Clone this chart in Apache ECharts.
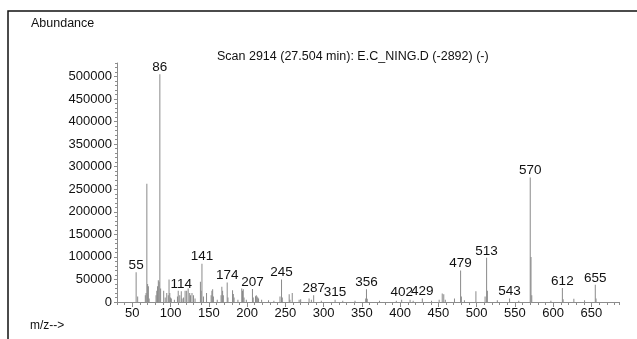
<!DOCTYPE html>
<html>
<head>
<meta charset="utf-8">
<script src="https://cdn.jsdelivr.net/npm/echarts@6/dist/echarts.min.js"></script>
<style>
  html, body { margin: 0; padding: 0; background: #fff; }
  #chart { width: 637px; height: 339px; }
</style>
</head>
<body>
<div id="chart"></div>
<script>
// m/z positions and abundances
const mzValues = [
  55, 57, 67, 68, 69, 70, 71, 72, 81, 82, 83, 84, 85, 86, 87, 91, 93, 95, 97, 98,
  99, 100, 101, 105, 109, 110, 112, 114, 115, 117, 119, 121, 123, 125, 126, 128, 130, 132,
  139, 140, 141, 143, 147, 153, 154, 155, 156, 161, 166, 167, 168, 169, 174, 175,
  181, 182, 183, 188, 193, 194, 195, 196, 199, 207, 208, 211, 212, 213, 214, 215, 219,
  228, 235, 243, 245, 246, 255, 256, 259, 268, 270, 281, 284, 287, 297, 315, 325, 341,
  355, 356, 357, 373, 395, 402, 413, 417, 429, 441, 451, 455, 457, 459, 471, 479, 480,
  484, 499, 511, 513, 514, 527, 543, 555, 570, 571, 572, 597, 612, 613, 627, 641, 655, 656
]
const abundances = [
  66000, 12000, 15000, 20000, 262000, 40000, 35000, 8000, 15000, 25000, 35000, 48000, 45000, 505000, 30000, 25000, 10000, 20000, 15000, 50000,
  20000, 10000, 8000, 5000, 12000, 25000, 15000, 24000, 8000, 10000, 25000, 25000, 30000, 20000, 15000, 20000, 15000, 8000,
  45000, 25000, 85000, 12000, 20000, 15000, 25000, 28000, 12000, 5000, 15000, 34000, 25000, 15000, 43000, 10000,
  26000, 18000, 10000, 5000, 30000, 25000, 28000, 10000, 5000, 29000, 10000, 13000, 15000, 12000, 10000, 8000, 5000,
  4000, 3000, 12000, 50000, 10000, 17000, 5000, 20000, 5000, 6000, 8000, 5000, 15000, 3000, 5000, 3000, 3000,
  8000, 28000, 7000, 3000, 3000, 5000, 5000, 3000, 8000, 3000, 5000, 19000, 17000, 5000, 8000, 70000, 12000,
  4000, 24000, 12000, 98000, 25000, 4000, 8000, 3000, 276000, 100000, 15000, 3000, 31000, 6000, 7000, 4000, 38000, 8000
]
// peaks that carry an m/z label
const labeledPeaks = [55, 86, 114, 141, 174, 207, 245, 287, 315, 356, 402, 429, 479, 513, 543, 570, 612, 655]

const xTickLabels = [50, 100, 150, 200, 250, 300, 350, 400, 450, 500, 550, 600, 650]
const yTickLabels = [0, 50000, 100000, 150000, 200000, 250000, 300000, 350000, 400000, 450000, 500000]

const titleText = 'Scan 2914 (27.504 min): E.C_NING.D (-2892) (-)'
const FONT = 'Liberation Sans, Arial, sans-serif'

const seriesData = mzValues.map((mz, i) => {
  const item = { value: [mz, abundances[i]] }
  if (labeledPeaks.indexOf(mz) >= 0) {
    item.label = {
      show: true,
      position: 'top',
      distance: 0,
      formatter: String(mz),
      color: '#111',
      fontSize: 13.5,
      fontFamily: FONT
    }
  }
  return item
})

const axisGray = '#8c8c8c'
const plain = (v) => String(v)

const option = {
  animation: false,
  backgroundColor: '#fff',
  grid: { left: 117, right: 18, top: 63, bottom: 37 },
  xAxis: [
    {
      type: 'value',
      min: 30,
      max: 686,
      interval: 50,
      axisLine: { lineStyle: { color: axisGray, width: 1 } },
      axisTick: { customValues: xTickLabels, length: 5, lineStyle: { color: axisGray } },
      axisLabel: { customValues: xTickLabels, formatter: plain, color: '#111', fontSize: 13, fontFamily: FONT, margin: 5 },
      splitLine: { show: false }
    },
    {
      type: 'value',
      min: 30,
      max: 686,
      interval: 10,
      position: 'bottom',
      axisLine: { show: false },
      axisTick: { length: 3, lineStyle: { color: axisGray } },
      axisLabel: { show: false },
      splitLine: { show: false }
    }
  ],
  yAxis: [
    {
      type: 'value',
      min: 0,
      max: 530000,
      interval: 50000,
      axisLine: { show: true, lineStyle: { color: axisGray, width: 1 } },
      axisTick: { show: true, customValues: yTickLabels, length: 3, lineStyle: { color: axisGray } },
      axisLabel: { customValues: yTickLabels, formatter: plain, color: '#111', fontSize: 13, fontFamily: FONT, margin: 5 },
      splitLine: { show: false }
    },
    {
      type: 'value',
      min: 0,
      max: 530000,
      interval: 10000,
      position: 'left',
      axisLine: { show: false },
      axisTick: { show: true, length: 2, lineStyle: { color: axisGray } },
      axisLabel: { show: false },
      splitLine: { show: false }
    }
  ],
  series: [
    {
      type: 'bar',
      xAxisIndex: 0,
      yAxisIndex: 0,
      barWidth: 1,
      itemStyle: { color: '#8a8a8a' },
      data: seriesData
    }
  ],
  graphic: [
    {
      type: 'polyline',
      shape: { points: [[8, 339], [8, 11], [637, 11]] },
      style: { stroke: '#111', lineWidth: 1.5, fill: null }
    },
    {
      type: 'text',
      left: 31,
      top: 17,
      style: { text: 'Abundance', fill: '#111', font: '12.5px ' + FONT }
    },
    {
      type: 'text',
      left: 217,
      top: 50,
      style: { text: titleText, fill: '#111', font: '12.5px ' + FONT }
    },
    {
      type: 'text',
      left: 30,
      top: 320,
      style: { text: 'm/z-->', fill: '#111', font: '12px ' + FONT }
    }
  ]
}

const chart = echarts.init(document.getElementById('chart'))
chart.setOption(option)
</script>
</body>
</html>
